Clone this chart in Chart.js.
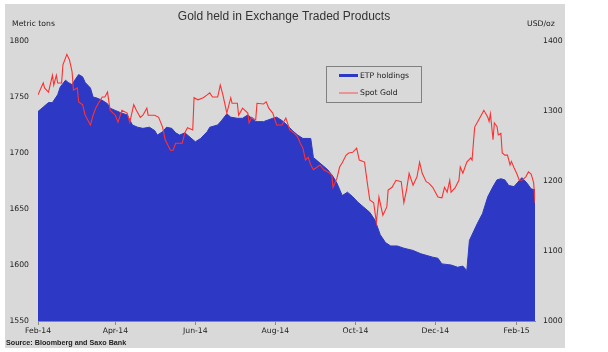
<!DOCTYPE html>
<html>
<head>
<meta charset="utf-8">
<script src="https://cdn.jsdelivr.net/npm/chart.js@4.4.1/dist/chart.umd.min.js"></script>
<style>
  html, body { margin: 0; padding: 0; background: #fff; }
  #goldChart { display: block; }
</style>
</head>
<body>
<canvas id="goldChart" width="608" height="352"></canvas>
<script>
// x values are days counted from 1 Feb 2014
const tickDays = [0, 59, 120, 181, 242, 303, 365];
const tickLabels = ['Feb-14', 'Apr-14', 'Jun-14', 'Aug-14', 'Oct-14', 'Dec-14', 'Feb-15'];

// ETP holdings, metric tons (left axis)
const etpDays = [0,4,8,11,15,17,21,23,26,28,31,34,36,40,42,45,49,53,55,59,63,68,72,76,80,85,89,91,95,98,
  102,105,108,112,116,120,124,129,131,137,140,144,147,152,156,160,166,172,179,182,186,190,194,198,202,208,
  210,215,221,225,228,232,236,240,244,248,253,257,261,265,269,274,279,286,292,301,305,308,315,320,324,327,
  329,335,339,343,347,350,353,356,359,363,366,369,373,376,379];
const etpTons = [1737,1741,1745,1745,1752,1759,1765,1763,1761,1765,1770,1768,1763,1758,1750,1749,1747,1744,1740,1738,
  1736,1734,1725,1723,1722,1723,1720,1716,1719,1723,1722,1718,1716,1718,1714,1710,1713,1719,1723,1725,
  1729,1735,1732,1731,1731,1734,1728,1728,1731,1732,1729,1725,1720,1716,1713,1713,1696,1691,1685,1679,
  1673,1662,1665,1661,1656,1652,1647,1640,1627,1620,1617,1617,1615,1613,1610,1607,1606,1601,1600,1598,
  1599,1595,1622,1637,1646,1661,1670,1676,1677,1676,1671,1670,1674,1678,1673,1668,1667];

// Spot gold, USD/oz (right axis)
const goldDays = [0,4,5,8,11,12,14,15,18,19,22,24,26,27,30,31,34,36,40,42,44,46,49,51,53,55,59,61,64,68,
  70,73,75,78,80,83,84,89,92,95,97,101,103,105,110,112,114,118,119,122,126,129,131,133,137,139,141,144,147,148,
  152,153,156,160,161,163,166,167,172,174,176,179,182,186,189,192,195,198,200,202,204,206,208,210,213,215,218,221,224,225,
  228,230,232,235,237,240,243,245,249,251,253,256,258,260,263,266,267,270,273,277,279,281,283,286,289,291,293,296,298,301,
  305,308,310,312,314,315,318,321,322,324,327,330,331,333,336,338,340,343,344,345,347,348,350,351,353,354,356,358,360,361,
  363,365,367,369,372,374,376,377,378,379];
const goldUsd = [1323,1340,1333,1327,1351,1337,1351,1340,1340,1366,1381,1373,1356,1330,1333,1313,1309,1294,1280,1294,
  1304,1311,1320,1320,1327,1301,1294,1284,1301,1297,1284,1309,1301,1291,1294,1304,1294,1294,1291,1277,
  1259,1244,1244,1254,1254,1269,1276,1273,1319,1316,1319,1323,1326,1320,1320,1337,1323,1297,1319,1311,
  1311,1294,1304,1297,1283,1291,1287,1311,1310,1313,1304,1297,1280,1280,1290,1273,1269,1263,1254,1247,
  1230,1234,1223,1216,1220,1223,1216,1213,1209,1191,1204,1220,1226,1237,1240,1241,1247,1230,1227,1199,
  1173,1169,1141,1177,1151,1163,1187,1191,1201,1199,1169,1187,1211,1194,1206,1227,1211,1199,1197,1191,
  1177,1176,1191,1184,1201,1184,1190,1201,1220,1211,1227,1233,1230,1277,1287,1294,1301,1291,1285,1296,
  1259,1283,1278,1266,1268,1240,1237,1237,1223,1228,1219,1211,1201,1201,1206,1213,1210,1204,1197,1169];

const ETP_BLUE = '#2d39c5';
const GOLD_RED = '#ff3030';
const PANEL_GRAY = '#d9d9d9';
const SMALL_FONT = 'DejaVu Sans';

// Gray panel, title, unit labels, legend box and source line
const chartDecor = {
    id: 'chartDecor',
    beforeDraw(chart) {
        const ctx = chart.ctx;
        ctx.save();
        ctx.fillStyle = '#ffffff';
        ctx.fillRect(0, 0, chart.width, chart.height);
        ctx.fillStyle = PANEL_GRAY;
        ctx.fillRect(5, 4, 560, 344);
        ctx.restore();
    },
    afterDraw(chart) {
        const ctx = chart.ctx;
        ctx.save();
        ctx.textBaseline = 'middle';

        ctx.fillStyle = '#333';
        ctx.font = '12px "Liberation Sans"';
        ctx.textAlign = 'center';
        ctx.fillText('Gold held in Exchange Traded Products', 284, 17);

        ctx.fillStyle = '#222';
        ctx.font = '7.7px "' + SMALL_FONT + '"';
        ctx.textAlign = 'left';
        ctx.fillText('Metric tons', 12, 24);
        ctx.fillText('USD/oz', 527, 24);

        // legend
        ctx.strokeStyle = '#808080';
        ctx.lineWidth = 1;
        ctx.strokeRect(326.5, 66.5, 95, 36);
        ctx.strokeStyle = ETP_BLUE;
        ctx.lineWidth = 3;
        ctx.beginPath(); ctx.moveTo(339, 75.5); ctx.lineTo(358, 75.5); ctx.stroke();
        ctx.strokeStyle = '#ff5050';
        ctx.lineWidth = 1;
        ctx.beginPath(); ctx.moveTo(339, 93); ctx.lineTo(358, 93); ctx.stroke();
        ctx.fillStyle = '#222';
        ctx.fillText('ETP holdings', 360, 76);
        ctx.fillText('Spot Gold', 360, 93.5);

        ctx.font = 'bold 7.2px "Liberation Sans"';
        ctx.fillText('Source: Bloomberg and Saxo Bank', 6, 343);
        ctx.restore();
    }
};

const tickFont = { family: SMALL_FONT, size: 7.7 };

new Chart(document.getElementById('goldChart'), {
    type: 'line',
    data: {
        datasets: [
            {
                label: 'ETP holdings',
                data: etpDays.map((d, i) => ({ x: d, y: etpTons[i] })),
                yAxisID: 'y',
                borderColor: ETP_BLUE,
                backgroundColor: ETP_BLUE,
                borderWidth: 1,
                pointRadius: 0,
                fill: 'start',
                order: 1
            },
            {
                label: 'Spot Gold',
                data: goldDays.map((d, i) => ({ x: d, y: goldUsd[i] })),
                yAxisID: 'y2',
                borderColor: GOLD_RED,
                borderWidth: 1.1,
                pointRadius: 0,
                fill: false,
                order: 0
            }
        ]
    },
    options: {
        responsive: false,
        devicePixelRatio: 1,
        animation: false,
        layout: { padding: { top: 41, left: 0, right: 0, bottom: 0 } },
        plugins: {
            legend: { display: false },
            tooltip: { enabled: false }
        },
        scales: {
            x: {
                type: 'linear',
                min: 0,
                max: 379,
                afterFit: (scale) => { scale.height = 31; },
                afterBuildTicks: (scale) => { scale.ticks = tickDays.map(v => ({ value: v })); },
                grid: { display: true, drawOnChartArea: false, drawTicks: true, tickLength: 4, color: '#8a8a8a' },
                border: { display: true, color: '#8a8a8a' },
                ticks: {
                    autoSkip: false,
                    maxRotation: 0,
                    padding: 1,
                    color: '#222',
                    font: tickFont,
                    callback: (value) => tickLabels[tickDays.indexOf(value)]
                }
            },
            y: {
                position: 'left',
                min: 1550,
                max: 1800,
                afterFit: (scale) => { scale.width = 38; },
                grid: { display: false, drawTicks: false },
                border: { display: false },
                ticks: { stepSize: 50, padding: 9, color: '#222', font: tickFont, callback: (value) => String(value) }
            },
            y2: {
                position: 'right',
                min: 1000,
                max: 1400,
                afterFit: (scale) => { scale.width = 73; },
                grid: { display: false, drawTicks: false },
                border: { display: false },
                ticks: { stepSize: 100, padding: 8, color: '#222', font: tickFont, callback: (value) => String(value) }
            }
        }
    },
    plugins: [chartDecor]
});
</script>
</body>
</html>
